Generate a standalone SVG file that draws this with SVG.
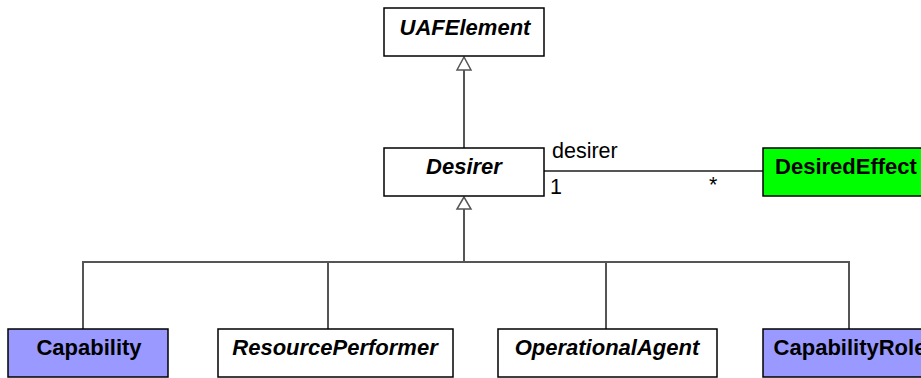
<svg xmlns="http://www.w3.org/2000/svg" width="921" height="378" viewBox="0 0 921 378">
<style>
.box{stroke:#000;stroke-width:1.5}
.w{fill:#fff}
.blue{fill:#9999ff}
.green{fill:#00ff00}
.t{font-family:"Liberation Sans",Arial,sans-serif;font-size:22px;font-weight:bold;text-anchor:middle}
.i{font-style:italic}
.l{font-family:"Liberation Sans",Arial,sans-serif;font-size:21.5px}
.c{fill:none;stroke:#555;stroke-width:2}
</style>
<rect width="921" height="378" fill="#fff"/>
<g id="connectors">
<line class="c" x1="464" y1="70" x2="464" y2="148"/>
<polygon points="464,57 457,70 471,70" fill="#fff" stroke="#555" stroke-width="1.5"/>
<path class="c" d="M464,209 V262 M83,329 V262 H849 V329 M328,262 V329 M606,262 V329"/>
<polygon points="464,197 457,209 471,209" fill="#fff" stroke="#555" stroke-width="1.5"/>
<line class="c" x1="544" y1="171" x2="763" y2="171"/>
<text class="l" x="552" y="158">desirer</text>
<text class="l" x="550" y="194">1</text>
<text class="l" x="709" y="192">*</text>
</g>
<g id="UAFElement"><rect class="box w" x="384" y="8" width="160" height="48"/><text class="t i" x="465" y="35">UAFElement</text></g>
<g id="Desirer"><rect class="box w" x="384" y="148" width="160" height="48"/><text class="t i" x="464" y="174">Desirer</text></g>
<g id="DesiredEffect"><rect class="box green" x="763" y="148" width="170" height="48"/><text class="t" x="846" y="174">DesiredEffect</text></g>
<g id="Capability"><rect class="box blue" x="8" y="329" width="160" height="48"/><text class="t" x="89" y="355">Capability</text></g>
<g id="ResourcePerformer"><rect class="box w" x="218" y="329" width="235" height="48"/><text class="t i" x="335" y="355">ResourcePerformer</text></g>
<g id="OperationalAgent"><rect class="box w" x="498" y="329" width="219" height="48"/><text class="t i" x="607" y="355">OperationalAgent</text></g>
<g id="CapabilityRole"><rect class="box blue" x="763" y="329" width="170" height="48"/><text class="t" x="850" y="355">CapabilityRole</text></g>
</svg>
